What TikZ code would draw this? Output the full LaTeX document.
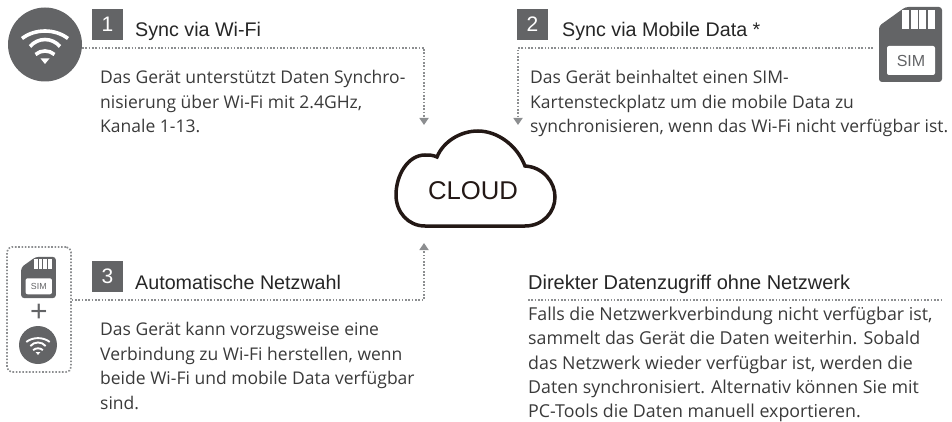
\documentclass[tikz,border=0pt]{standalone}
\usepackage{fontspec}
\setmainfont{Open Sans}
\newfontfamily\headfont{Liberation Sans}
\usetikzlibrary{arrows.meta}
\definecolor{icongray}{HTML}{636466}
\definecolor{linegray}{HTML}{8C8E90}
\definecolor{bodygray}{HTML}{3A3A3A}
\definecolor{cloudline}{HTML}{231815}
\tikzset{
	numbox/.style={fill=icongray, text=white, minimum size=31pt, inner sep=0, font=\headfont\fontsize{21}{21}\selectfont},
	headtext/.style={anchor=base west, inner sep=0, text=black!85, font=\headfont\fontsize{19.7}{24}\selectfont},
	bodytext/.style={anchor=north west, inner sep=0, align=left, text=bodygray, font=\fontsize{17.5}{24.6}\selectfont},
	dotline/.style={draw=linegray, line width=1.7pt, dash pattern=on 1.6pt off 1.7pt},
	arrowline/.style={dotline, -{Triangle[width=9pt, length=7pt]}},
	iconcircle/.style={circle, fill=icongray, inner sep=0},
	pics/wifi/.style={code={
		\draw [white, line width=#1] (-23,-6) .. controls (-10,-16) and (10,-16) .. (23,-6);
		\draw [white, line width=#1] (-15,2) .. controls (-7,-7.3) and (7,-7.3) .. (15,2);
		\draw [white, line width=#1] (-9.5,10) .. controls (-4,5.3) and (4,5.3) .. (9.5,10);
		\fill [white] (-4.5,14) -- (4.5,14) -- (0,19.5) -- cycle;
	}},
	pics/simcard/.style={code={
		\fill [icongray, rounded corners=3pt] (-31.5,-18.5) -- (-5,-37.5) -- (31.5,-37.5) -- (31.5,37.5) -- (-31.5,37.5) -- cycle;
		\foreach \barx in {-8.5,0,8.5,17}
			\fill [white] (\barx,-34.5) rectangle ++(7.2,19);
		\fill [white, rounded corners=2pt] (-23.5,1.5) rectangle (24.5,30.5);
		\node [transform shape, text=icongray, font=\headfont\fontsize{16}{16}\selectfont] at (0.5,16) {SIM};
	}},
}
\begin{document}
\begin{tikzpicture}[x=1pt, y=-1pt]
	\useasboundingbox (0,0) rectangle (952,422);
	\draw (45,44.5) node [iconcircle, minimum size=74pt] (wifia) {};
	\pic at (45,44.5) {wifi=3.6pt};
	\draw (107.5,24.5) node [numbox] (numa) {1};
	\draw (135,37) node [headtext] (heada) {Sync via Wi-Fi};
	\draw (100,70) node [bodytext] (bodya) {Das Gerät unterstützt Daten Synchro-\\nisierung über Wi-Fi mit 2.4GHz,\\Kanale 1-13.};

	\draw (910.5,44.5) node [minimum width=63pt, minimum height=75pt, inner sep=0] (sima) {};
	\pic at (910.5,44.5) {simcard};
	\draw (532.5,24.5) node [numbox] (numb) {2};
	\draw (562,37) node [headtext] (headb) {Sync via Mobile Data *};
	\draw (530,70) node [bodytext] (bodyb) {Das Gerät beinhaltet einen SIM-\\Kartensteckplatz um die mobile Data zu\\synchronisieren, wenn das Wi-Fi nicht verfügbar ist.};

	\draw (39,309.5) node [draw=linegray, line width=1.7pt, dash pattern=on 1.6pt off 1.7pt, rounded corners=5pt, minimum width=64pt, minimum height=125pt, inner sep=0] (combo) {};
	\pic [scale=.55] at (38.5,277.5) {simcard};
	\draw (39,313) node [inner sep=0, text=icongray, font=\headfont\fontsize{30}{30}\selectfont] (plus) {+};
	\draw (38,345) node [iconcircle, minimum size=38pt] (wific) {};
	\pic [scale=.51] at (38,345) {wifi=1.9pt};
	\draw (107.5,276.5) node [numbox] (numc) {3};
	\draw (135,289) node [headtext] (headc) {Automatische Netzwahl};
	\draw (100,322) node [bodytext] (bodyc) {Das Gerät kann vorzugsweise eine\\Verbindung zu Wi-Fi herstellen, wenn\\beide Wi-Fi und mobile Data verfügbar\\sind.};

	\draw (528,289) node [headtext, font=\headfont\fontsize{20}{24}\selectfont] (headd) {Direkter Datenzugriff ohne Netzwerk};
	\draw (528,306.5) node [bodytext, font=\fontsize{17.8}{24.4}\selectfont] (bodyd) {Falls die Netzwerkverbindung nicht verfügbar ist,\\sammelt das Gerät die Daten weiterhin.  Sobald\\das Netzwerk wieder verfügbar ist, werden die\\Daten synchronisiert. Alternativ können Sie mit\\PC-Tools die Daten manuell exportieren.};

	\draw [cloudline, line width=3.5pt] (425,226) -- (525,226)
	.. controls (543,226) and (555,212) .. (555,197)
	.. controls (555,182) and (543,167) .. (525,166)
	.. controls (517,145) and (497,131) .. (478,131)
	.. controls (460,131) and (443,142) .. (437,157)
	.. controls (433,155) and (429,155) .. (425,155)
	.. controls (408,155) and (396,175) .. (396,195)
	.. controls (396,212) and (408,226) .. (425,226) -- cycle;
	\draw (473,191) node [inner sep=0, text=cloudline, font=\headfont\fontsize{25.7}{26}\selectfont] (cloud) {CLOUD};

	\coordinate (cloudnw) at (424,125);
	\coordinate (cloudne) at (518,125);
	\coordinate (cloudsw) at (424,243);
	\coordinate (rulestart) at (528,300);
	\coordinate (ruleend) at (942,300);
	\draw [arrowline] (wifia.-5) -| (cloudnw);
	\draw [arrowline] ([xshift=-6pt, yshift=-3.5pt]sima.west) -| (cloudne);
	\draw [arrowline] ([yshift=9.5pt]combo.east) -| (cloudsw);
	\draw [dotline] (rulestart) -- (ruleend);
\end{tikzpicture}
\end{document}
